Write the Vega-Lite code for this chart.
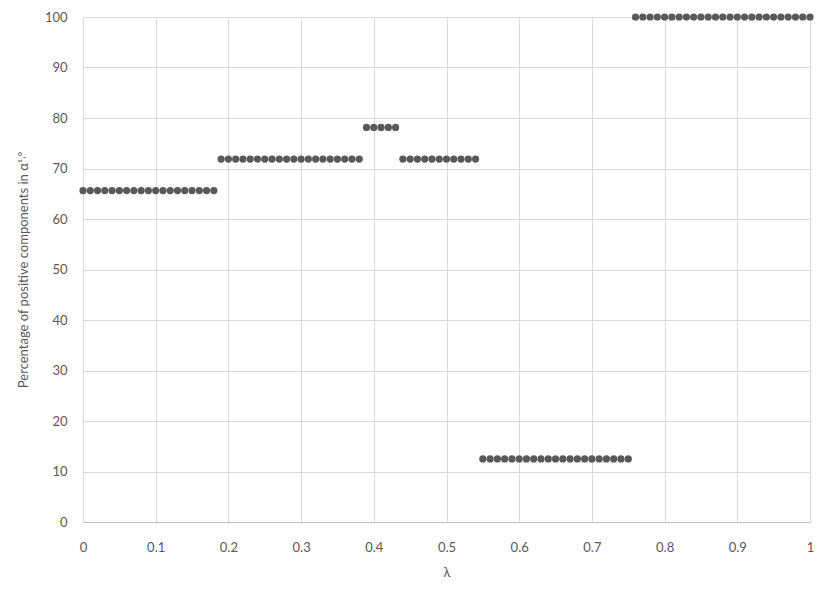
{
  "$schema": "https://vega.github.io/schema/vega-lite/v6.json",
  "width": 727,
  "height": 505,
  "autosize": {"type": "none"},
  "padding": {"left": 83, "top": 17, "right": 20, "bottom": 76},
  "background": "white",
  "config": {
    "view": {"stroke": null},
    "font": "Lato",
    "axis": {
      "labelFont": "Lato",
      "titleFont": "Lato",
      "labelColor": "#595959",
      "titleColor": "#595959",
      "labelFontSize": 13,
      "titleFontSize": 13,
      "titleFontWeight": "normal",
      "gridColor": "#d9d9d9",
      "gridWidth": 1,
      "ticks": false,
      "labelFlush": false,
      "labelBound": false,
      "labelOverlap": false
    }
  },
  "data": {
    "values": [
      {"lambda": 0.00, "pct": 65.625}, {"lambda": 0.01, "pct": 65.625}, {"lambda": 0.02, "pct": 65.625}, {"lambda": 0.03, "pct": 65.625}, {"lambda": 0.04, "pct": 65.625},
      {"lambda": 0.05, "pct": 65.625}, {"lambda": 0.06, "pct": 65.625}, {"lambda": 0.07, "pct": 65.625}, {"lambda": 0.08, "pct": 65.625}, {"lambda": 0.09, "pct": 65.625},
      {"lambda": 0.10, "pct": 65.625}, {"lambda": 0.11, "pct": 65.625}, {"lambda": 0.12, "pct": 65.625}, {"lambda": 0.13, "pct": 65.625}, {"lambda": 0.14, "pct": 65.625},
      {"lambda": 0.15, "pct": 65.625}, {"lambda": 0.16, "pct": 65.625}, {"lambda": 0.17, "pct": 65.625}, {"lambda": 0.18, "pct": 65.625},
      {"lambda": 0.19, "pct": 71.875}, {"lambda": 0.20, "pct": 71.875}, {"lambda": 0.21, "pct": 71.875}, {"lambda": 0.22, "pct": 71.875}, {"lambda": 0.23, "pct": 71.875},
      {"lambda": 0.24, "pct": 71.875}, {"lambda": 0.25, "pct": 71.875}, {"lambda": 0.26, "pct": 71.875}, {"lambda": 0.27, "pct": 71.875}, {"lambda": 0.28, "pct": 71.875},
      {"lambda": 0.29, "pct": 71.875}, {"lambda": 0.30, "pct": 71.875}, {"lambda": 0.31, "pct": 71.875}, {"lambda": 0.32, "pct": 71.875}, {"lambda": 0.33, "pct": 71.875},
      {"lambda": 0.34, "pct": 71.875}, {"lambda": 0.35, "pct": 71.875}, {"lambda": 0.36, "pct": 71.875}, {"lambda": 0.37, "pct": 71.875}, {"lambda": 0.38, "pct": 71.875},
      {"lambda": 0.39, "pct": 78.125}, {"lambda": 0.40, "pct": 78.125}, {"lambda": 0.41, "pct": 78.125}, {"lambda": 0.42, "pct": 78.125}, {"lambda": 0.43, "pct": 78.125},
      {"lambda": 0.44, "pct": 71.875}, {"lambda": 0.45, "pct": 71.875}, {"lambda": 0.46, "pct": 71.875}, {"lambda": 0.47, "pct": 71.875}, {"lambda": 0.48, "pct": 71.875},
      {"lambda": 0.49, "pct": 71.875}, {"lambda": 0.50, "pct": 71.875}, {"lambda": 0.51, "pct": 71.875}, {"lambda": 0.52, "pct": 71.875}, {"lambda": 0.53, "pct": 71.875},
      {"lambda": 0.54, "pct": 71.875},
      {"lambda": 0.55, "pct": 12.5}, {"lambda": 0.56, "pct": 12.5}, {"lambda": 0.57, "pct": 12.5}, {"lambda": 0.58, "pct": 12.5}, {"lambda": 0.59, "pct": 12.5},
      {"lambda": 0.60, "pct": 12.5}, {"lambda": 0.61, "pct": 12.5}, {"lambda": 0.62, "pct": 12.5}, {"lambda": 0.63, "pct": 12.5}, {"lambda": 0.64, "pct": 12.5},
      {"lambda": 0.65, "pct": 12.5}, {"lambda": 0.66, "pct": 12.5}, {"lambda": 0.67, "pct": 12.5}, {"lambda": 0.68, "pct": 12.5}, {"lambda": 0.69, "pct": 12.5},
      {"lambda": 0.70, "pct": 12.5}, {"lambda": 0.71, "pct": 12.5}, {"lambda": 0.72, "pct": 12.5}, {"lambda": 0.73, "pct": 12.5}, {"lambda": 0.74, "pct": 12.5},
      {"lambda": 0.75, "pct": 12.5},
      {"lambda": 0.76, "pct": 100}, {"lambda": 0.77, "pct": 100}, {"lambda": 0.78, "pct": 100}, {"lambda": 0.79, "pct": 100}, {"lambda": 0.80, "pct": 100},
      {"lambda": 0.81, "pct": 100}, {"lambda": 0.82, "pct": 100}, {"lambda": 0.83, "pct": 100}, {"lambda": 0.84, "pct": 100}, {"lambda": 0.85, "pct": 100},
      {"lambda": 0.86, "pct": 100}, {"lambda": 0.87, "pct": 100}, {"lambda": 0.88, "pct": 100}, {"lambda": 0.89, "pct": 100}, {"lambda": 0.90, "pct": 100},
      {"lambda": 0.91, "pct": 100}, {"lambda": 0.92, "pct": 100}, {"lambda": 0.93, "pct": 100}, {"lambda": 0.94, "pct": 100}, {"lambda": 0.95, "pct": 100},
      {"lambda": 0.96, "pct": 100}, {"lambda": 0.97, "pct": 100}, {"lambda": 0.98, "pct": 100}, {"lambda": 0.99, "pct": 100}, {"lambda": 1.00, "pct": 100}
    ]
  },
  "mark": {"type": "circle", "size": 52, "color": "#595959", "opacity": 1},
  "encoding": {
    "x": {
      "field": "lambda",
      "type": "quantitative",
      "title": "λ",
      "scale": {"domain": [0, 1], "nice": false},
      "axis": {
        "values": [0, 0.1, 0.2, 0.3, 0.4, 0.5, 0.6, 0.7, 0.8, 0.9, 1],
        "format": "~g",
        "domain": true,
        "domainColor": "#bfbfbf",
        "domainWidth": 1,
        "labelPadding": 19,
        "titlePadding": 12
      }
    },
    "y": {
      "field": "pct",
      "type": "quantitative",
      "title": "Percentage of positive components in α¹˒⁰",
      "scale": {"domain": [0, 100], "nice": false},
      "axis": {
        "values": [0, 10, 20, 30, 40, 50, 60, 70, 80, 90, 100],
        "domain": false,
        "labelPadding": 16,
        "titlePadding": 14
      }
    }
  }
}
